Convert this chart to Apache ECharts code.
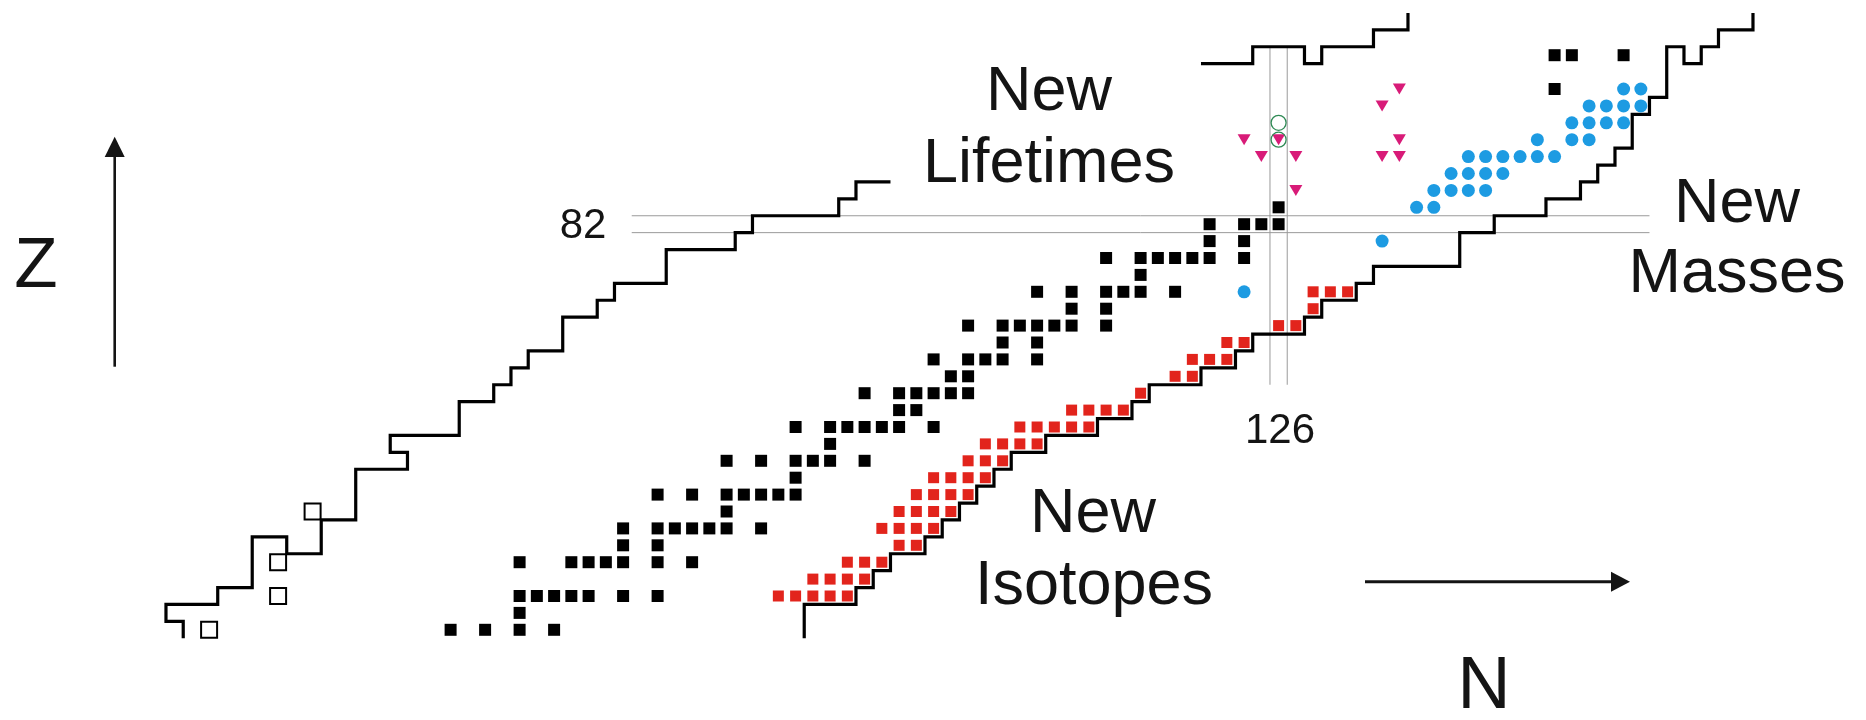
<!DOCTYPE html>
<html>
<head>
<meta charset="utf-8">
<title>Chart of nuclides — new isotopes, masses and lifetimes</title>
<script src="https://cdn.jsdelivr.net/npm/echarts/dist/echarts.min.js"></script>
<style>
  html, body { margin: 0; padding: 0; background: #fff; }
  #chart { width: 1866px; height: 720px; }
</style>
</head>
<body>
<div id="chart"></div>
<script>
// Nuclides per proton number: [Z, [N, N, ...]]
const knownRows = [
  [58, [78, 80, 82, 84]],
  [59, [82]],
  [60, [82, 83, 84, 85, 86, 88, 90]],
  [62, [82, 85, 86, 87, 88, 90, 92]],
  [63, [88, 90]],
  [64, [88, 90, 91, 92, 93, 94, 96]],
  [65, [94]],
  [66, [90, 92, 94, 95, 96, 97, 98]],
  [67, [98]],
  [68, [94, 96, 98, 99, 100, 102]],
  [69, [100]],
  [70, [98, 100, 101, 102, 103, 104, 106]],
  [71, [104, 105]],
  [72, [102, 104, 105, 106, 107, 108]],
  [73, [107, 108]],
  [74, [106, 108, 109, 110, 112]],
  [75, [110, 112]],
  [76, [108, 110, 111, 112, 113, 114, 116]],
  [77, [114, 116]],
  [78, [112, 114, 116, 117, 118, 120]],
  [79, [118]],
  [80, [116, 118, 119, 120, 121, 122, 124]],
  [81, [122, 124]],
  [82, [122, 124, 125, 126]],
  [83, [126]],
  [90, [142]],
  [92, [142, 143, 146]]
];

const newIsotopeRows = [
  [60, [97, 98, 99, 100, 101]],
  [61, [99, 100, 101, 102]],
  [62, [101, 102, 103]],
  [63, [104, 105]],
  [64, [103, 104, 105, 106]],
  [65, [104, 105, 106, 107]],
  [66, [105, 106, 107, 108]],
  [67, [106, 107, 108, 109]],
  [68, [108, 109, 110]],
  [69, [109, 110, 111, 112]],
  [70, [111, 112, 113, 114, 115]],
  [71, [114, 115, 116, 117]],
  [72, [118]],
  [73, [120, 121]],
  [74, [121, 122, 123]],
  [75, [123, 124]],
  [76, [126, 127]],
  [77, [128]],
  [78, [128, 129, 130]]
];

const newMassRows = [
  [78, [124]],
  [81, [132]],
  [83, [134, 135]],
  [84, [135, 136, 137, 138]],
  [85, [136, 137, 138, 139]],
  [86, [137, 138, 139, 140, 141, 142]],
  [87, [141, 143, 144]],
  [88, [143, 144, 145, 146]],
  [89, [144, 145, 146, 147]],
  [90, [146, 147]]
];

// [N, Z]
const newLifetimePoints = [
  [124, 87], [126, 87], [125, 86], [127, 86], [127, 84],
  [133, 90], [132, 89], [133, 87], [132, 86], [133, 86]
];
const isomerPoints = [[126, 88], [126, 87]];
const protonEmitterPoints = [[64, 58], [68, 60], [68, 62], [70, 65]];

// Drip lines run along cell edges: [N, Z]
const protonDripLow = [
  [62.5, 57.5], [62.5, 58.5], [61.5, 58.5], [61.5, 59.5], [64.5, 59.5], [64.5, 60.5],
  [66.5, 60.5], [66.5, 63.5], [68.5, 63.5], [68.5, 62.5], [70.5, 62.5], [70.5, 64.5],
  [72.5, 64.5], [72.5, 67.5], [75.5, 67.5], [75.5, 68.5], [74.5, 68.5], [74.5, 69.5],
  [78.5, 69.5], [78.5, 71.5], [80.5, 71.5], [80.5, 72.5], [81.5, 72.5], [81.5, 73.5],
  [82.5, 73.5], [82.5, 74.5], [84.5, 74.5], [84.5, 76.5], [86.5, 76.5], [86.5, 77.5],
  [87.5, 77.5], [87.5, 78.5], [90.5, 78.5], [90.5, 80.5], [94.5, 80.5], [94.5, 81.5],
  [95.5, 81.5], [95.5, 82.5], [100.5, 82.5], [100.5, 83.5], [101.5, 83.5], [101.5, 84.5],
  [103.5, 84.5]
];
const protonDripHigh = [
  [121.5, 91.5], [124.5, 91.5], [124.5, 92.5], [127.5, 92.5], [127.5, 91.5], [128.5, 91.5],
  [128.5, 92.5], [131.5, 92.5], [131.5, 93.5], [133.5, 93.5], [133.5, 94.5]
];
const neutronDrip = [
  [98.5, 57.5], [98.5, 59.5], [101.5, 59.5], [101.5, 60.5], [102.5, 60.5], [102.5, 61.5],
  [103.5, 61.5], [103.5, 62.5], [105.5, 62.5], [105.5, 63.5], [106.5, 63.5], [106.5, 64.5],
  [107.5, 64.5], [107.5, 65.5], [108.5, 65.5], [108.5, 66.5], [109.5, 66.5], [109.5, 67.5],
  [110.5, 67.5], [110.5, 68.5], [112.5, 68.5], [112.5, 69.5], [115.5, 69.5], [115.5, 70.5],
  [117.5, 70.5], [117.5, 71.5], [118.5, 71.5], [118.5, 72.5], [121.5, 72.5], [121.5, 73.5],
  [123.5, 73.5], [123.5, 74.5], [124.5, 74.5], [124.5, 75.5], [127.5, 75.5], [127.5, 76.5],
  [128.5, 76.5], [128.5, 77.5], [130.5, 77.5], [130.5, 78.5], [131.5, 78.5], [131.5, 79.5],
  [136.5, 79.5], [136.5, 81.5], [138.5, 81.5], [138.5, 82.5], [141.5, 82.5], [141.5, 83.5],
  [143.5, 83.5], [143.5, 84.5], [144.5, 84.5], [144.5, 85.5], [145.5, 85.5], [145.5, 86.5],
  [146.5, 86.5], [146.5, 88.5], [147.5, 88.5], [147.5, 89.5], [148.5, 89.5], [148.5, 92.5],
  [149.5, 92.5], [149.5, 91.5], [150.5, 91.5], [150.5, 92.5], [151.5, 92.5], [151.5, 93.5],
  [153.5, 93.5], [153.5, 94.5]
];

// Shell closures Z = 82 and N = 126, drawn as pairs of cell borders
const magicZLow = [[88.5, 81.5], [147.5, 81.5]];
const magicZHigh = [[88.5, 82.5], [147.5, 82.5]];
const magicNLeft = [[125.5, 72.5], [125.5, 92.5]];
const magicNRight = [[126.5, 72.5], [126.5, 92.5]];

const magicZLabel = '82';
const magicNLabel = '126';

const expand = rows => rows.flatMap(([z, ns]) => ns.map(n => [n, z]));

const chart = echarts.init(document.getElementById('chart'), null, { renderer: 'canvas' });

const FONT = "'Liberation Sans', Arial, Helvetica, sans-serif";
const INK = '#141414';

const stepLine = (data, color, width, z) => ({
  type: 'line', data, symbol: 'none', silent: true, z,
  lineStyle: { color, width, opacity: 1, join: 'miter', cap: 'butt' }
});

const dots = (data, symbol, size, style, z, extra) => Object.assign({
  type: 'scatter', data, symbol, symbolSize: size, z, silent: true,
  itemStyle: Object.assign({ opacity: 1 }, style)
}, extra || {});

const text = (str, x, y, size) => ({
  type: 'text', x, y, silent: true, z: 100,
  style: { text: str, font: size + 'px ' + FONT, fill: INK, align: 'center', verticalAlign: 'middle' }
});

chart.setOption({
  animation: false,
  backgroundColor: '#ffffff',
  grid: { left: 2.1, right: 0.9, top: 4.5, bottom: 5.7, containLabel: false },
  xAxis: { type: 'value', min: 52, max: 160, show: false },
  yAxis: { type: 'value', min: 53, max: 95, show: false },
  series: [
    stepLine(magicZLow, '#9a9a9a', 1, 1),
    stepLine(magicZHigh, '#9a9a9a', 1, 1),
    stepLine(magicNLeft, '#9a9a9a', 1, 1),
    stepLine(magicNRight, '#9a9a9a', 1, 1),
    stepLine(protonDripLow, '#000000', 3.2, 3),
    stepLine(protonDripHigh, '#000000', 3.2, 3),
    stepLine(neutronDrip, '#000000', 3.2, 3),
    dots(expand(knownRows), 'rect', 12, { color: '#000000' }, 4),
    dots(expand(newIsotopeRows), 'rect', 11, { color: '#e2241c' }, 4),
    dots(expand(newMassRows), 'circle', 13, { color: '#1d9be2' }, 4),
    dots(newLifetimePoints, 'triangle', [13, 11], { color: '#d81b78' }, 4, { symbolRotate: 180 }),
    dots(isomerPoints, 'circle', 15,
      { color: 'rgba(0,0,0,0)', borderColor: '#2f8a55', borderWidth: 1.3 }, 5),
    dots(protonEmitterPoints, 'rect', 16,
      { color: 'rgba(0,0,0,0)', borderColor: '#000000', borderWidth: 2 }, 4)
  ],
  graphic: [
    text('New', 1049, 93, 63),
    text('Lifetimes', 1049, 165, 63),
    text('New', 1093, 515, 63),
    text('Isotopes', 1094, 587, 63),
    text('New', 1737, 205, 63),
    text('Masses', 1737, 275, 63),
    text(magicZLabel, 583, 226, 42),
    text(magicNLabel, 1280, 431, 42),
    text('Z', 36, 267, 71),
    text('N', 1484, 688, 74),
    { type: 'line', silent: true, z: 100,
      shape: { x1: 114.7, y1: 366.7, x2: 114.7, y2: 152 },
      style: { stroke: INK, lineWidth: 2.6 } },
    { type: 'polygon', silent: true, z: 100,
      shape: { points: [[114.7, 136.7], [104.7, 157], [124.7, 157]] },
      style: { fill: INK } },
    { type: 'line', silent: true, z: 100,
      shape: { x1: 1365, y1: 581.7, x2: 1614, y2: 581.7 },
      style: { stroke: INK, lineWidth: 3 } },
    { type: 'polygon', silent: true, z: 100,
      shape: { points: [[1630, 581.7], [1611, 571.7], [1611, 591.7]] },
      style: { fill: INK } }
  ]
});
</script>
</body>
</html>
